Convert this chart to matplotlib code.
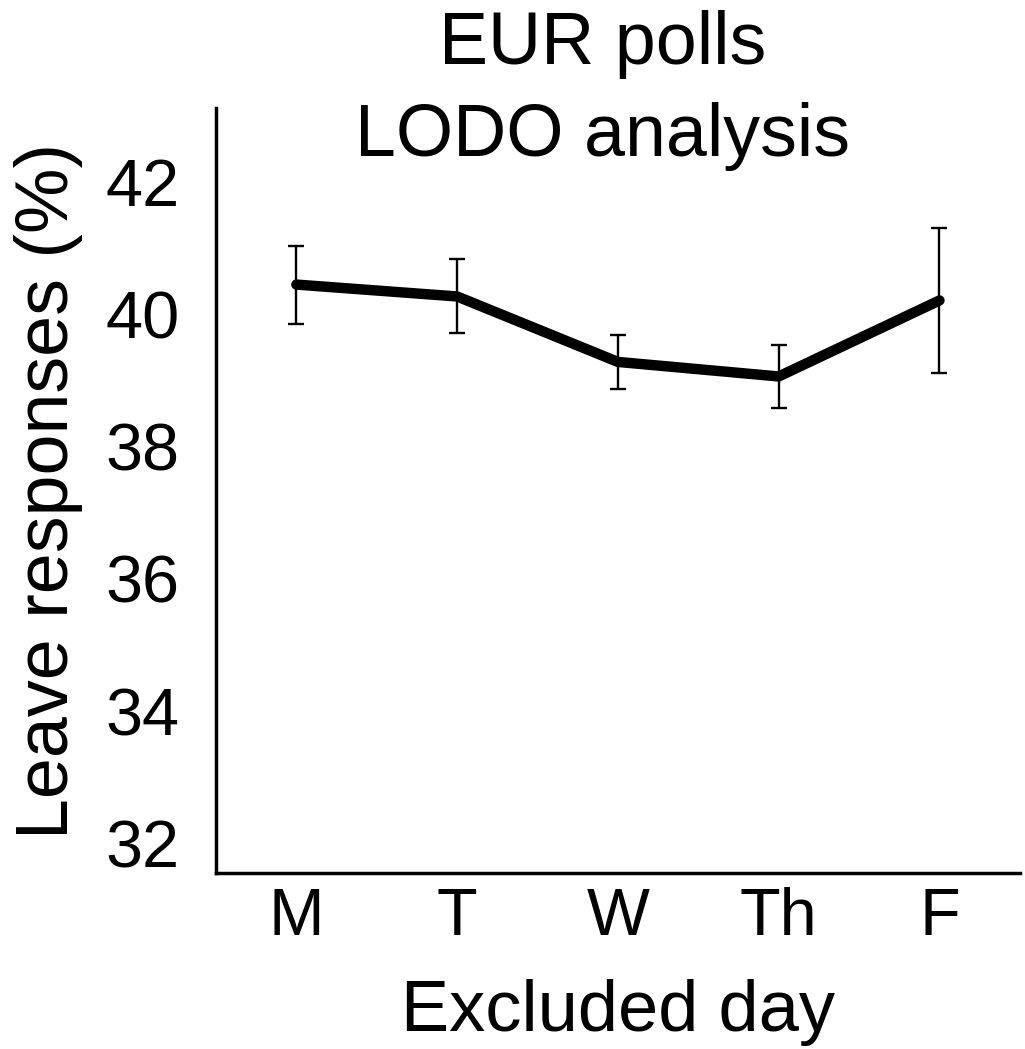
import numpy as np
import matplotlib
matplotlib.use('Agg')
import matplotlib.pyplot as plt

plt.rcParams['font.family'] = ['Liberation Sans', 'DejaVu Sans']

days = ['M', 'T', 'W', 'Th', 'F']
leave_pct = [40.45, 40.27, 39.28, 39.06, 40.21]
err_pct = [0.59, 0.56, 0.41, 0.47, 1.09]

fig = plt.figure(figsize=(10.25, 10.49), dpi=100)
ax = fig.add_axes([0.2107, 0.1678, 0.7843, 0.7292])

x = np.arange(len(days))
ax.errorbar(x, leave_pct, yerr=err_pct, fmt='none', ecolor='black',
            elinewidth=1.7, capsize=6, capthick=1.7, zorder=2)
ax.plot(x, leave_pct, color='black', linewidth=7.5,
        solid_capstyle='round', solid_joinstyle='round', zorder=3)

ax.set_xlim(-0.5, 4.5)
ax.set_ylim(31.55, 43.12)
ax.set_xticks(x)
ax.set_xticklabels(days)
ax.set_yticks([32, 34, 36, 38, 40, 42])

for side in ['top', 'right']:
    ax.spines[side].set_visible(False)
for side in ['left', 'bottom']:
    ax.spines[side].set_linewidth(2.5)

ax.tick_params(axis='both', length=0, labelsize=48)
ax.tick_params(axis='y', pad=26)
ax.tick_params(axis='x', pad=10)

ax.set_xlabel('Excluded day', fontsize=52, labelpad=22)
ax.set_ylabel('Leave responses (%)', fontsize=53, labelpad=16)

fig.text(0.588, 0.914, 'EUR polls\nLODO analysis', fontsize=53,
         ha='center', va='center', linespacing=1.42)

fig.savefig('out.png', dpi=100)
